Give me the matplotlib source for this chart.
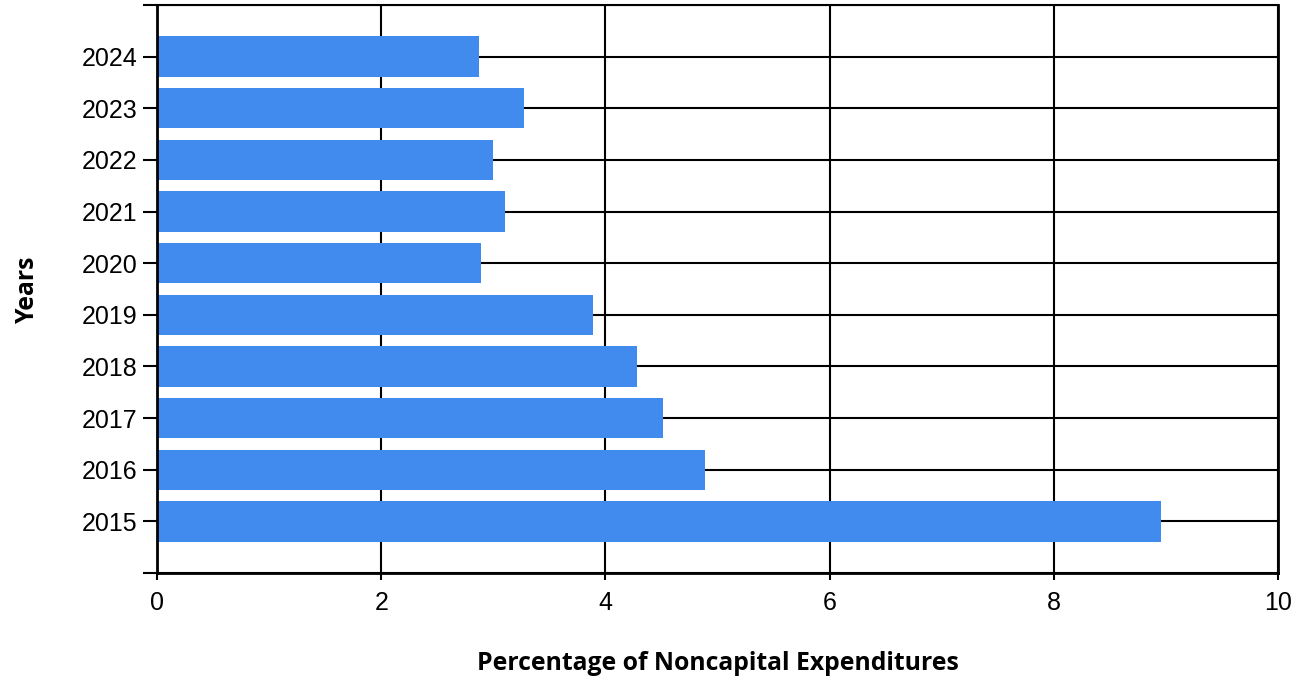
import numpy as np
import matplotlib.pyplot as plt

years = ['2015', '2016', '2017', '2018', '2019', '2020', '2021', '2022', '2023', '2024']
pct = [8.96, 4.89, 4.51, 4.28, 3.89, 2.89, 3.10, 3.00, 3.27, 2.87]

plt.rcParams['font.family'] = ['Liberation Sans', 'DejaVu Sans']

fig = plt.figure(figsize=(13.08, 6.81), dpi=100)
ax = fig.add_axes([157/1308, 1 - 573/681, (1278 - 157)/1308, (573 - 5)/681])

pos = np.arange(len(years))
ax.barh(pos, pct, height=0.78, color='#418BEF', zorder=2)

ax.set_xlim(0, 10)
ax.set_ylim(-1, len(years))
ax.set_xticks(np.arange(0, 11, 2))
ax.set_yticks(np.arange(-1, len(years) + 1))
ax.set_yticklabels([''] + years + [''])
ax.grid(True, color='black', linewidth=1.5, zorder=0)
ax.set_axisbelow(True)

ax.spines['top'].set_linewidth(1.5)
for s in ['left', 'bottom', 'right']:
    ax.spines[s].set_linewidth(2)
ax.tick_params(axis='y', length=10, width=1.5, labelsize=18, pad=4)
ax.tick_params(axis='x', length=5, width=1.5, labelsize=18, pad=8)

ax.set_xlabel('Percentage of Noncapital Expenditures', fontsize=17.8, fontweight='bold',
              family='Open Sans', labelpad=26)
ax.set_ylabel('Years', fontsize=17.8, fontweight='bold', family='Open Sans', labelpad=30)

fig.savefig('out.png', dpi=100)
